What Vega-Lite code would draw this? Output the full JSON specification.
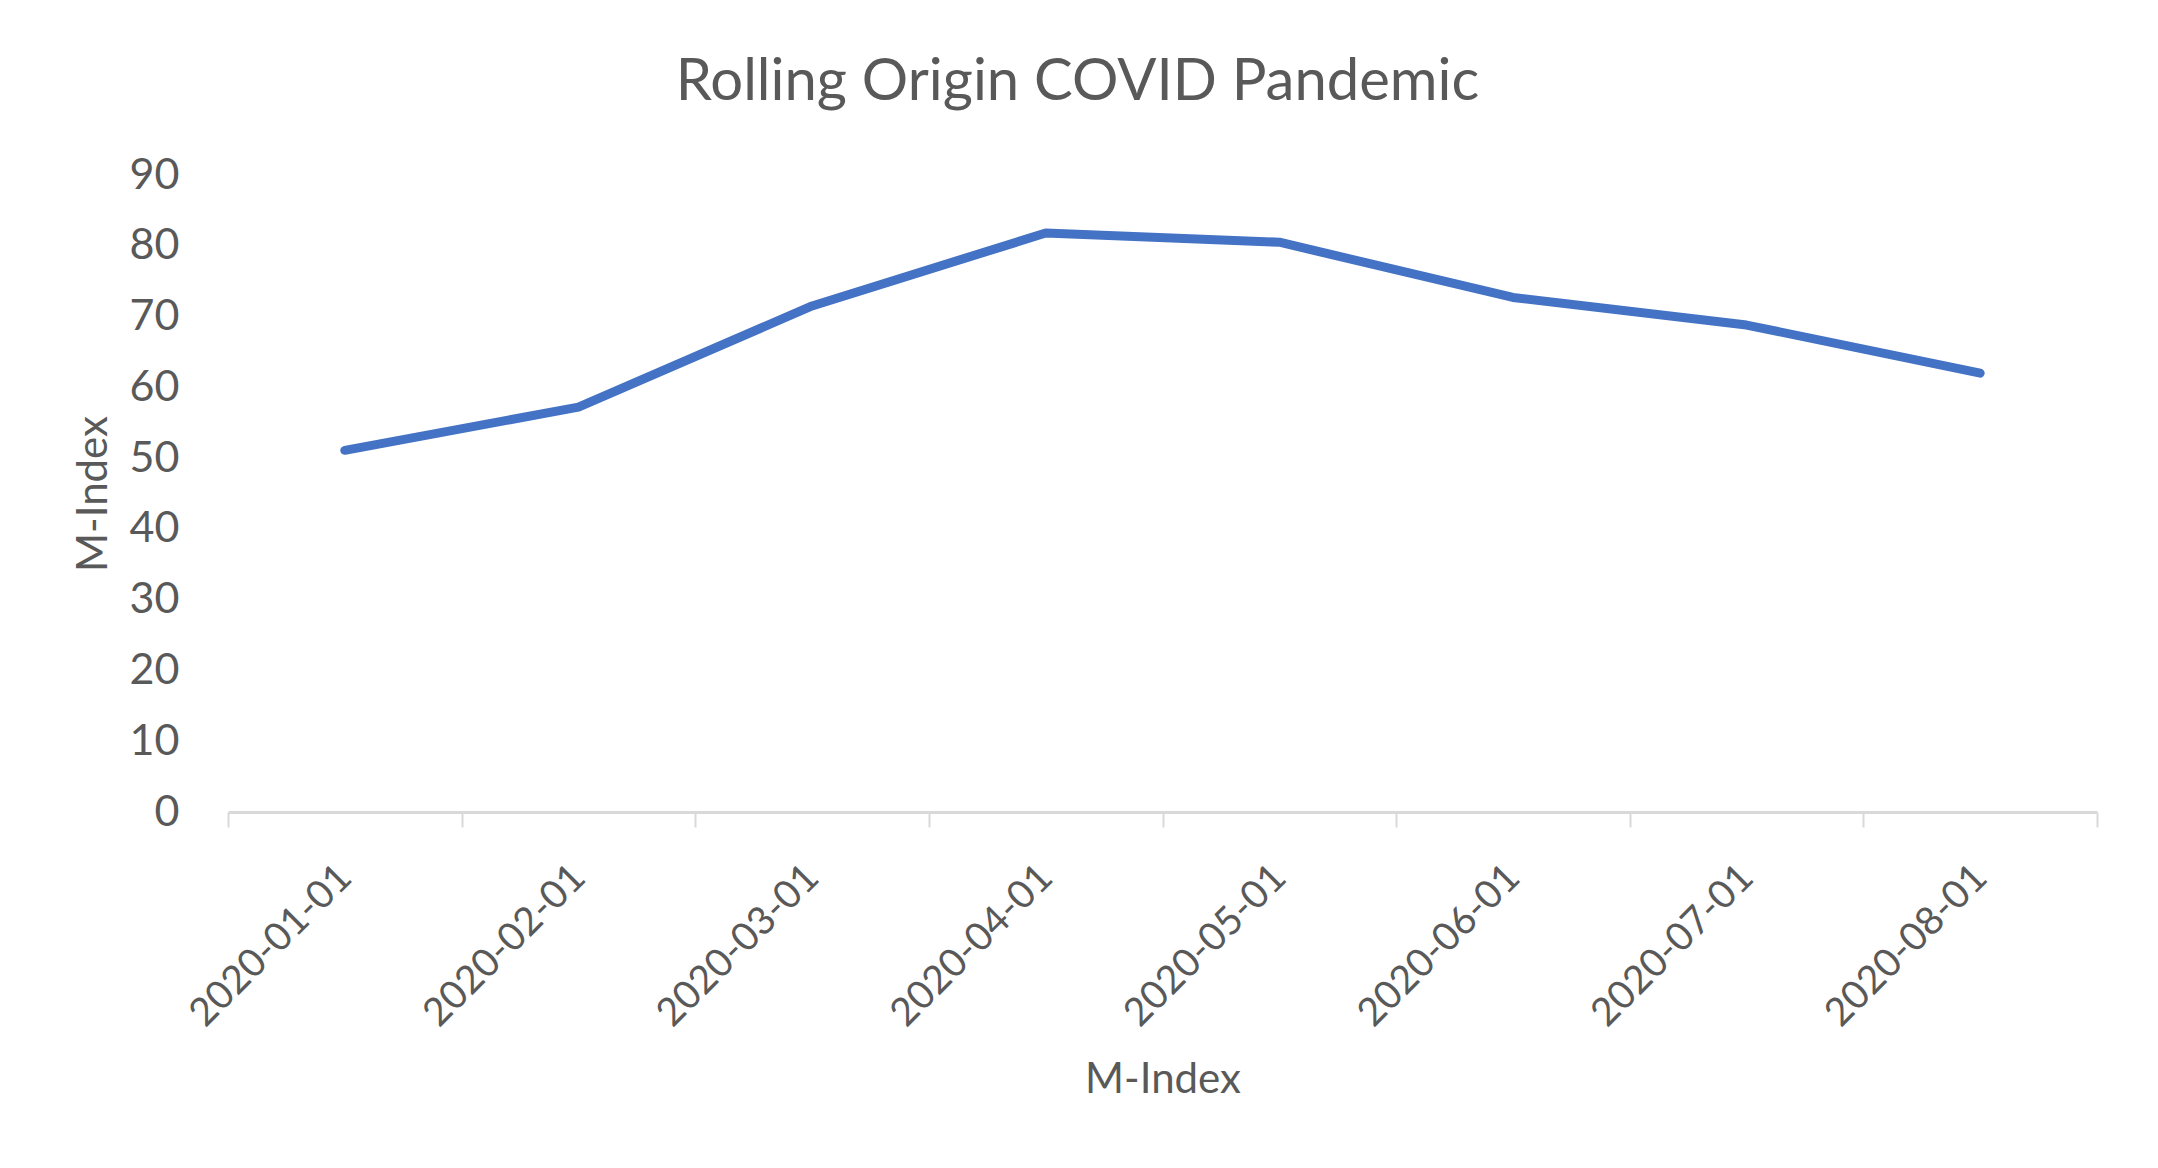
{
  "$schema": "https://vega.github.io/schema/vega-lite/v6.json",
  "width": 1869,
  "height": 637,
  "autosize": {"type": "none"},
  "padding": {"left": 228, "top": 175, "right": 61, "bottom": 356},
  "background": "white",
  "title": {
    "text": "Rolling Origin COVID Pandemic",
    "font": "Lato",
    "fontSize": 58,
    "fontWeight": "normal",
    "color": "#595959",
    "anchor": "middle",
    "baseline": "alphabetic",
    "offset": -4,
    "dx": -85
  },
  "data": {
    "values": [
      {"month": "2020-01-01", "value": 51.1},
      {"month": "2020-02-01", "value": 57.2},
      {"month": "2020-03-01", "value": 71.5},
      {"month": "2020-04-01", "value": 81.8},
      {"month": "2020-05-01", "value": 80.5},
      {"month": "2020-06-01", "value": 72.7},
      {"month": "2020-07-01", "value": 68.8},
      {"month": "2020-08-01", "value": 62.0}
    ]
  },
  "mark": {"type": "line", "color": "#4472C4", "strokeWidth": 9, "strokeCap": "round", "strokeJoin": "round"},
  "encoding": {
    "x": {
      "field": "month",
      "type": "ordinal",
      "title": "M-Index",
      "scale": {"type": "band", "paddingInner": 0, "paddingOuter": 0},
      "axis": {
        "tickBand": "extent",
        "labelAngle": -45,
        "labelAlign": "right",
        "labelBaseline": "middle",
        "labelPadding": 44,
        "labelLimit": 0,
        "labelFontSize": 39,
        "tickSize": 15,
        "titlePadding": 47
      }
    },
    "y": {
      "field": "value",
      "type": "quantitative",
      "title": "M-Index",
      "scale": {"domain": [0, 90], "nice": false},
      "axis": {
        "values": [0, 10, 20, 30, 40, 50, 60, 70, 80, 90],
        "domain": false,
        "ticks": false,
        "grid": false,
        "labelPadding": 49,
        "titlePadding": 14
      }
    }
  },
  "config": {
    "view": {"stroke": null},
    "axis": {
      "labelFont": "Lato",
      "labelFontSize": 43,
      "labelColor": "#595959",
      "titleFont": "Lato",
      "titleFontSize": 42,
      "titleFontWeight": "normal",
      "titleColor": "#595959",
      "domainColor": "#D9D9D9",
      "domainWidth": 3,
      "tickColor": "#D9D9D9",
      "tickWidth": 2
    }
  }
}
